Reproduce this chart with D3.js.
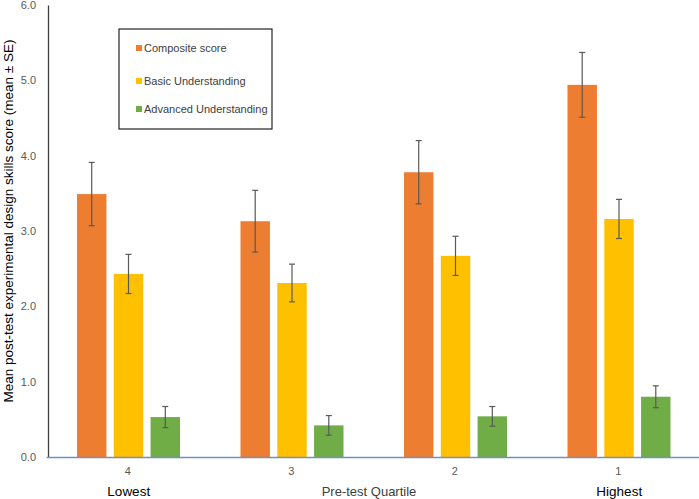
<!DOCTYPE html>
<html><head><meta charset="utf-8">
<script src="https://cdn.jsdelivr.net/npm/d3@7"></script>
<style>body{margin:0;background:#fff;}svg{display:block;font-family:Arial,"Liberation Sans",sans-serif;}</style>
</head><body>
<svg id="c" width="699" height="499"></svg>
<script>
const quartiles = ["4", "3", "2", "1"];
const series = ["Composite score", "Basic Understanding", "Advanced Understanding"];
const colors = ["#ED7D31", "#FFC000", "#70AD47"];
const composite = [3.49, 3.13, 3.78, 4.94];
const compositeSE = [0.42, 0.41, 0.42, 0.43];
const basic = [2.43, 2.31, 2.67, 3.16];
const basicSE = [0.26, 0.25, 0.26, 0.26];
const advanced = [0.53, 0.42, 0.54, 0.80];
const advancedSE = [0.14, 0.13, 0.13, 0.145];
const yTicks = [0, 1, 2, 3, 4, 5, 6];

const values = [composite, basic, advanced];
const ses = [compositeSE, basicSE, advancedSE];

const svg = d3.select("#c");
const x0 = d3.scaleBand().domain(quartiles).range([46, 700]);
const x1 = d3.scaleBand().domain(series).range([31, 134]).paddingInner(0.2);
const y = d3.scaleLinear().domain([0, 6]).range([457, 5]);

// y axis
const yAxis = d3.axisLeft(y).tickValues(yTicks).tickFormat(d3.format(".1f")).tickSize(0).tickPadding(12);
const ya = svg.append("g").attr("transform", "translate(48,0)").call(yAxis);
ya.select(".domain").attr("stroke", "#404040").attr("stroke-width", 1.3);
ya.selectAll("text").attr("font-size", 11).attr("fill", "#595959").attr("font-family", "Arial, 'Liberation Sans', sans-serif");

// bars
const data = [];
quartiles.forEach((q, i) => series.forEach((s, j) => data.push({q, s, j, v: values[j][i], se: ses[j][i]})));
svg.append("g").selectAll("rect").data(data).join("rect")
  .attr("x", d => x0(d.q) + x1(d.s))
  .attr("y", d => y(d.v))
  .attr("width", x1.bandwidth())
  .attr("height", d => y(0) - y(d.v))
  .attr("fill", d => colors[d.j]);

// error bars
const eb = svg.append("g").attr("stroke", "#595959").attr("stroke-width", 1.2);
data.forEach(d => {
  const cx = x0(d.q) + x1(d.s) + x1.bandwidth() / 2;
  eb.append("line").attr("x1", cx).attr("x2", cx).attr("y1", y(d.v + d.se)).attr("y2", y(d.v - d.se));
  eb.append("line").attr("x1", cx - 3).attr("x2", cx + 3).attr("y1", y(d.v + d.se)).attr("y2", y(d.v + d.se));
  eb.append("line").attr("x1", cx - 3).attr("x2", cx + 3).attr("y1", y(d.v - d.se)).attr("y2", y(d.v - d.se));
});

// x axis
const xAxis = d3.axisBottom(x0).tickSize(0).tickPadding(10);
const xa = svg.append("g").attr("transform", `translate(0,${y(0)})`).call(xAxis);
xa.select(".domain").attr("stroke", "#6F8FCF").attr("stroke-width", 1.5);
xa.selectAll("text").attr("font-size", 11).attr("fill", "#595959").attr("font-family", "Arial, 'Liberation Sans', sans-serif");

// bottom labels
svg.append("text").attr("x", x0("4") + x0.bandwidth() / 2 + 1).attr("y", 496).attr("text-anchor", "middle")
  .attr("font-size", 13.5).attr("fill", "#000").text("Lowest");
svg.append("text").attr("x", x0("1") + x0.bandwidth() / 2 + 1).attr("y", 496).attr("text-anchor", "middle")
  .attr("font-size", 13.5).attr("fill", "#000").text("Highest");
svg.append("text").attr("x", 369).attr("y", 496).attr("text-anchor", "middle")
  .attr("font-size", 13).attr("fill", "#404040").text("Pre-test Quartile");

// y title
svg.append("text").attr("transform", "translate(13,221) rotate(-90)").attr("text-anchor", "middle")
  .attr("font-size", 13.5).attr("fill", "#000").text("Mean post-test experimental design skills score (mean ± SE)");

// legend
const lg = svg.append("g");
lg.append("rect").attr("x", 119).attr("y", 29).attr("width", 153).attr("height", 100)
  .attr("fill", "#fff").attr("stroke", "#222").attr("stroke-width", 1.2);
const ly = [48, 81, 109];
series.forEach((s, j) => {
  lg.append("rect").attr("x", 136).attr("y", ly[j] - 3).attr("width", 6).attr("height", 6).attr("fill", colors[j]);
  lg.append("text").attr("x", 144).attr("y", ly[j]).attr("dy", "0.35em").attr("font-size", 11)
    .attr("fill", "#404040").text(s);
});
</script>
</body></html>
